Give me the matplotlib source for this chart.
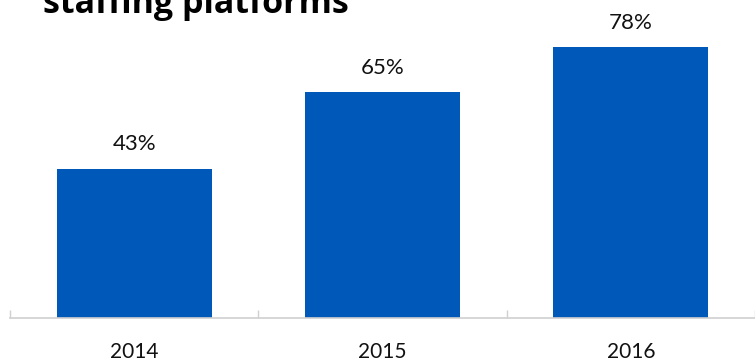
import matplotlib.pyplot as plt

years = ["2014", "2015", "2016"]
shares = [43, 65, 78]

fig = plt.figure(figsize=(7.55, 3.62), dpi=100)
ax = fig.add_axes([10 / 755, 1 - 318 / 362, 1 - 10 / 755, 318 / 362])

x = range(len(years))
bars = ax.bar(x, shares, width=0.624, color="#0058B8")
for rect, v in zip(bars, shares):
    ax.text(rect.get_x() + rect.get_width() / 2, v + 5.3, f"{v}%",
            ha="center", va="baseline", fontsize=16, family="Lato", color="#111111")

ax.set_xlim(-0.5, 2.465)
ax.set_ylim(0, 91.6)
ax.set_xticks([-0.5, 0.5, 1.5, 2.5])
ax.set_xticklabels([])
ax.tick_params(axis="x", direction="in", length=6, color="#d0d0d0", width=1)
ax.tick_params(axis="y", left=False, labelleft=False)
for name in ["top", "right", "left"]:
    ax.spines[name].set_visible(False)
ax.spines["bottom"].set_color("#d0d0d0")
ax.spines["bottom"].set_linewidth(1.2)

# year labels under each bar
for i, y in zip(x, years):
    ax.text(i, -11.5, y, ha="center", va="baseline", fontsize=15, family="Lato",
            color="#111111", clip_on=False)

fig.text(43 / 755, 1 - 13 / 362, "staffing platforms", ha="left", va="baseline",
         fontsize=24.5, fontweight="bold", family="Open Sans", color="#000000")

fig.savefig("out.png", dpi=100)
